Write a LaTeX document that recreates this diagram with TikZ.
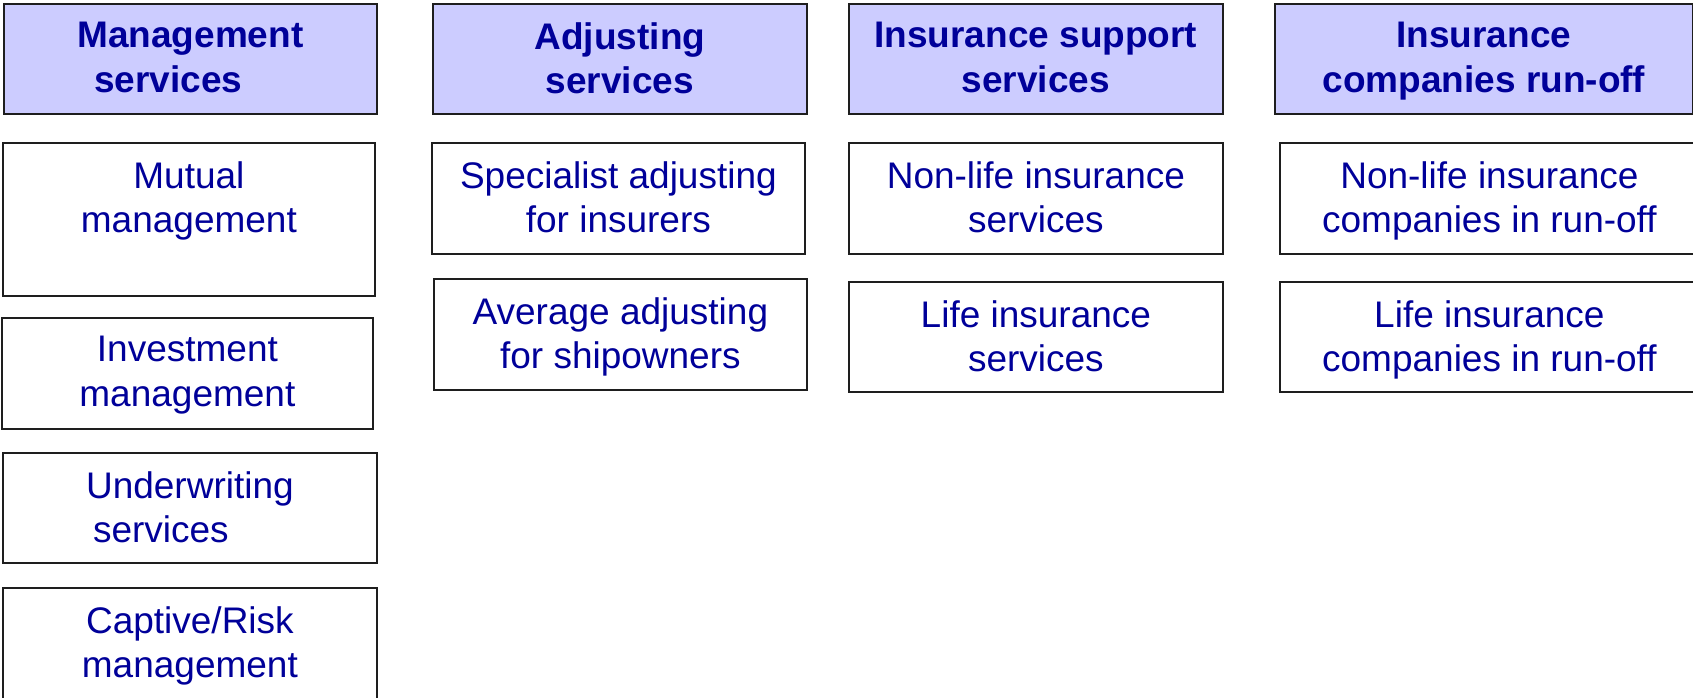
\documentclass[tikz,border=0pt]{standalone}
\usepackage{fontspec}
\setmainfont{Liberation Sans}
\definecolor{txtblue}{RGB}{0,0,153}
\definecolor{headfill}{RGB}{204,204,255}
\definecolor{edgegray}{RGB}{30,30,30}
\begin{document}
\begin{tikzpicture}[x=1pt,y=-1pt,
  box/.style={draw=edgegray, line width=1.8pt, rectangle, inner sep=0pt, anchor=north west},
  head/.style={box, fill=headfill},
  txt/.style={anchor=north, inner sep=0pt, align=center, text=txtblue,
    font=\fontsize{37}{44.5}\selectfont, execute at begin node={\rule{0pt}{27pt}}},
  headtxt/.style={txt, font=\fontsize{37}{44.5}\selectfont\bfseries}]
\useasboundingbox (0,0) rectangle (1693,698);
\clip (0,0) rectangle (1693,698);

% Column 1: management services
\node[head, minimum width=373pt, minimum height=110pt] (h1) at (3,3) {};
\node[box, minimum width=372pt, minimum height=153pt] (m1) at (2,142) {};
\node[box, minimum width=371pt, minimum height=111pt] (m2) at (1,317) {};
\node[box, minimum width=374pt, minimum height=110pt] (m3) at (2,452) {};
\node[box, minimum width=374pt, minimum height=115pt] (m4) at (2,587) {};
\node[headtxt] (h1t) at ([yshift=-19pt]h1.north) {Management\\services\hspace*{44pt}};
\node[txt] (m1t) at ([yshift=-19pt]m1.north) {Mutual\\management};
\node[txt] (m2t) at ([yshift=-19pt]m2.north) {Investment\\management};
\node[txt] (m3t) at ([yshift=-19pt]m3.north) {Underwriting\\services\hspace*{58pt}};
\node[txt] (m4t) at ([yshift=-19pt]m4.north) {Captive/Risk\\management};

% Column 2: adjusting services
\node[head, minimum width=374pt, minimum height=110pt] (h2) at (432,3) {};
\node[box, minimum width=373pt, minimum height=111pt] (a1) at (431,142) {};
\node[box, minimum width=373pt, minimum height=111pt] (a2) at (433,278) {};
\node[headtxt] (h2t) at ([yshift=-19pt]h2.north) {Adjusting\\services};
\node[txt] (a1t) at ([yshift=-19pt]a1.north) {Specialist adjusting\\for insurers};
\node[txt] (a2t) at ([yshift=-19pt]a2.north) {Average adjusting\\for shipowners};

% Column 3: insurance support services
\node[head, minimum width=374pt, minimum height=110pt] (h3) at (848,3) {};
\node[box, minimum width=374pt, minimum height=111pt] (s1) at (848,142) {};
\node[box, minimum width=374pt, minimum height=110pt] (s2) at (848,281) {};
\node[headtxt] (h3t) at ([yshift=-19pt]h3.north) {Insurance support\\services};
\node[txt] (s1t) at ([yshift=-19pt]s1.north) {Non-life insurance\\services};
\node[txt] (s2t) at ([yshift=-19pt]s2.north) {Life insurance\\services};

% Column 4: insurance companies run-off
\node[head, minimum width=418pt, minimum height=110pt] (h4) at (1274,3) {};
\node[box, minimum width=419pt, minimum height=111pt] (r1) at (1279,142) {};
\node[box, minimum width=419pt, minimum height=110pt] (r2) at (1279,281) {};
\node[headtxt] (h4t) at ([yshift=-19pt]h4.north) {Insurance\\companies run-off};
\node[txt] (r1t) at ([yshift=-19pt]r1.north) {Non-life insurance\\companies in run-off};
\node[txt] (r2t) at ([yshift=-19pt]r2.north) {Life insurance\\companies in run-off};
\end{tikzpicture}
\end{document}
